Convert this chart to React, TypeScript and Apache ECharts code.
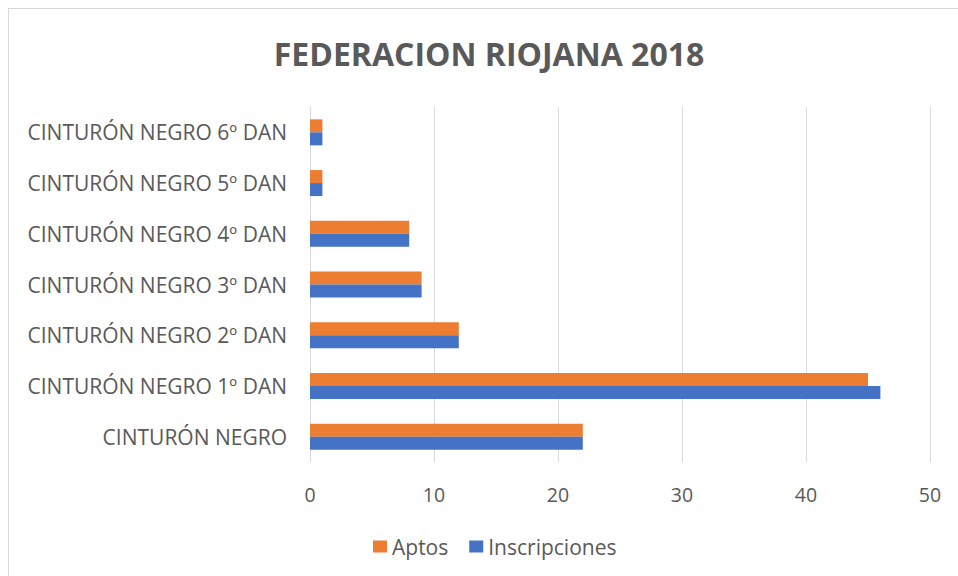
import React, { useEffect, useRef } from "react";
import * as echarts from "echarts";

const categories = [
  "CINTURÓN NEGRO",
  "CINTURÓN NEGRO 1º DAN",
  "CINTURÓN NEGRO 2º DAN",
  "CINTURÓN NEGRO 3º DAN",
  "CINTURÓN NEGRO 4º DAN",
  "CINTURÓN NEGRO 5º DAN",
  "CINTURÓN NEGRO 6º DAN",
];
const inscripciones = [22, 46, 12, 9, 8, 1, 1];
const aptos = [22, 45, 12, 9, 8, 1, 1];
const xTicks = { min: 0, max: 50, interval: 10 };
const titleText = "FEDERACION RIOJANA 2018";

const FONT = "'Open Sans', 'Liberation Sans', sans-serif";
const TEXT = "#595959";

export default function App() {
  const ref = useRef<HTMLDivElement>(null);
  useEffect(() => {
    if (!ref.current) return;
    const chart = echarts.init(ref.current, undefined, { renderer: "svg" });
    chart.setOption({
      animation: false,
      backgroundColor: "#ffffff",
      textStyle: { fontFamily: FONT },
      title: {
        text: titleText,
        left: 484,
        top: 32,
        textAlign: "center",
        textStyle: { fontFamily: FONT, fontSize: 32, fontWeight: "bold", color: TEXT },
      },
      legend: {
        data: ["Aptos", "Inscripciones"],
        top: 531,
        left: 368,
        icon: "rect",
        itemWidth: 14,
        itemHeight: 12,
        itemGap: 21,
        textStyle: { fontFamily: FONT, fontSize: 21, color: TEXT },
      },
      grid: { left: 310, right: 28, top: 107, bottom: 114, containLabel: false },
      xAxis: {
        type: "value",
        min: xTicks.min,
        max: xTicks.max,
        interval: xTicks.interval,
        axisLine: { show: false },
        axisTick: { show: false },
        splitLine: { lineStyle: { color: "#D9D9D9", width: 1 } },
        axisLabel: { color: TEXT, fontSize: 19.5, fontFamily: FONT, margin: 22 },
      },
      yAxis: {
        type: "category",
        data: categories,
        axisLine: { show: true, lineStyle: { color: "#D9D9D9" } },
        axisTick: { show: false },
        axisLabel: { color: TEXT, fontSize: 21, fontFamily: FONT, margin: 23 },
      },
      series: [
        {
          name: "Aptos",
          type: "bar",
          data: aptos,
          barWidth: 13,
          barGap: "0%",
          itemStyle: { color: "#ED7D31" },
        },
        {
          name: "Inscripciones",
          type: "bar",
          data: inscripciones,
          barWidth: 13,
          barGap: "0%",
          itemStyle: { color: "#4472C4" },
        },
      ],
      graphic: [
        {
          type: "line",
          shape: { x1: 8.5, y1: 8, x2: 8.5, y2: 576 },
          style: { stroke: "#D9D9D9", lineWidth: 1 },
        },
        {
          type: "line",
          shape: { x1: 8, y1: 8.5, x2: 958, y2: 8.5 },
          style: { stroke: "#D9D9D9", lineWidth: 1 },
        },
      ],
    });
    return () => chart.dispose();
  }, []);
  return (
    <div
      ref={ref}
      style={{ position: "fixed", left: 0, top: 0, width: 958, height: 576 }}
    />
  );
}
